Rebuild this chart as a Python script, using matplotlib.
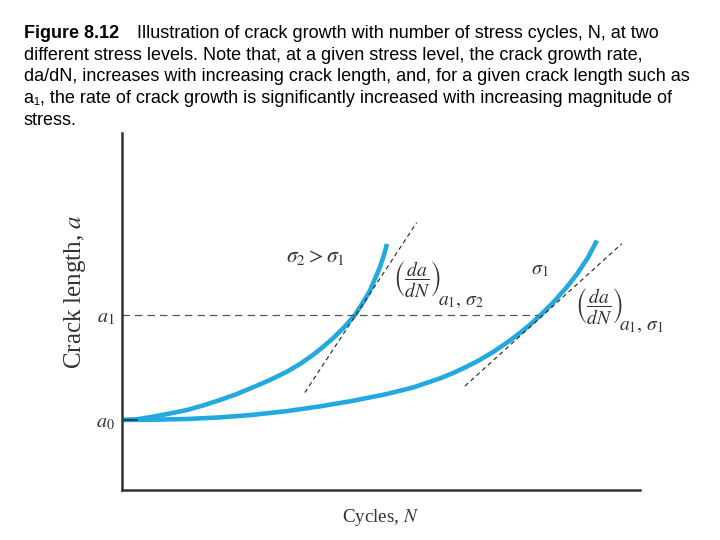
import matplotlib
matplotlib.use("Agg")
import matplotlib.pyplot as plt

# ==========================
# DATA (arbitrary units 0..10)
# ==========================

a0 = 1.96
a1 = 4.90

# sigma_2 curve (higher stress)
n_s2 = [0.000, 0.290, 0.598, 0.927, 1.255, 1.564, 1.892, 2.220,
        2.529, 2.857, 3.185, 3.436, 3.687, 3.880, 4.073, 4.286,
        4.498, 4.653, 4.788, 4.884, 4.981, 5.058, 5.116]
a_s2 = [1.961, 1.980, 2.053, 2.143, 2.241, 2.367, 2.521, 2.689,
        2.877, 3.081, 3.314, 3.529, 3.782, 4.006, 4.249, 4.552,
        4.902, 5.252, 5.588, 5.910, 6.246, 6.583, 6.891]

# sigma_1 curve (lower stress)
n_s1 = [0.000, 0.598, 1.255, 1.892, 2.529, 3.185, 3.822, 4.459,
        5.116, 5.618, 6.139, 6.390, 6.641, 6.911, 7.162, 7.432,
        7.683, 7.876, 8.069, 8.320, 8.571, 8.784, 8.996, 9.170]
a_s1 = [1.961, 1.969, 1.989, 2.034, 2.106, 2.210, 2.342, 2.499,
        2.689, 2.871, 3.126, 3.275, 3.443, 3.647, 3.863, 4.126,
        4.398, 4.630, 4.882, 5.246, 5.655, 6.048, 6.510, 6.989]

# tangent lines at a1
tan_s2_n = [3.53, 5.69]
tan_s2_a = [2.73, 7.49]
tan_s1_n = [6.62, 9.65]
tan_s1_a = [2.91, 6.90]

# horizontal a1 line end
a1_line_n = [0.0, 8.03]

caption_first = "Illustration of crack growth with number of stress cycles, N, at two"
caption_lines = [
    "different stress levels. Note that, at a given stress level, the crack growth rate,",
    "da/dN, increases with increasing crack length, and, for a given crack length such as",
    "a\u2081, the rate of crack growth is significantly increased with increasing magnitude of",
    "stress.",
]

blue = "#22a9e0"
ink = "#333333"

plt.rcParams["mathtext.fontset"] = "stix"

fig = plt.figure(figsize=(7.2, 5.4), dpi=100)
ax = fig.add_axes([0.1694, 0.0926, 0.7194, 0.6611])

ax.plot(n_s2, a_s2, color=blue, lw=3.3, solid_capstyle="butt",
        solid_joinstyle="round")
ax.plot(n_s1, a_s1, color=blue, lw=3.3, solid_capstyle="butt",
        solid_joinstyle="round")
ax.plot([0, 0.29], [a0, a0], color="#1a3a4a", lw=1.3)

ax.plot(tan_s2_n, tan_s2_a, color="#222222", lw=0.8, ls=(0, (4, 3)))
ax.plot(tan_s1_n, tan_s1_a, color="#222222", lw=0.8, ls=(0, (4, 3)))
ax.plot(a1_line_n, [a1, a1], color="#555555", lw=0.9, ls=(0, (6, 4)))

ax.set_xlim(0, 10)
ax.set_ylim(0, 10)

ax.spines["top"].set_visible(False)
ax.spines["right"].set_visible(False)
for s in ["left", "bottom"]:
    ax.spines[s].set_linewidth(1.8)
    ax.spines[s].set_color(ink)

ax.set_xticks([])
ax.set_yticks([a0, a1])
ax.set_yticklabels([r"$a_0$", r"$a_1$"], fontsize=14.5, color=ink)
ax.tick_params(axis="y", length=0, pad=5)

ax.set_xlabel(r"Cycles, $N$", fontsize=13.7, family="Liberation Serif",
              color=ink, labelpad=12)
ax.set_ylabel(r"Crack length, $a$", fontsize=18, family="Liberation Serif",
              color=ink)
ax.yaxis.set_label_coords(-0.066, 0.555)

# curve annotations
ax.text(3.74, 6.53, r"$\sigma_2 > \sigma_1$", fontsize=15.5, ha="center",
        va="center", color=ink)
ax.text(5.23, 5.88, r"$\left(\dfrac{da}{dN}\right)$",
        fontsize=14, ha="left", va="center", color=ink)
ax.text(6.10, 5.30, r"$a_1,\,\sigma_2$",
        fontsize=14, ha="left", va="center", color=ink)
ax.text(8.07, 6.18, r"$\sigma_1$", fontsize=14.5, ha="center", va="center",
        color=ink)
ax.text(8.745, 5.12, r"$\left(\dfrac{da}{dN}\right)$",
        fontsize=14, ha="left", va="center", color=ink)
ax.text(9.60, 4.60, r"$a_1,\,\sigma_1$",
        fontsize=14, ha="left", va="center", color=ink)

# ==========================
# CAPTION
# ==========================

fig.text(24 / 720, 1 - 33 / 540, "Figure 8.12", fontsize=13,
         family="Liberation Sans", weight="bold", va="center")
fig.text(137 / 720, 1 - 33 / 540, caption_first,
         fontsize=13, family="Liberation Sans", va="center")
for i, line in enumerate(caption_lines):
    fig.text(24 / 720, 1 - (55 + 21.8 * i) / 540, line, fontsize=13,
             family=["Liberation Sans", "DejaVu Sans"], va="center")

fig.savefig("out.png", dpi=100)
